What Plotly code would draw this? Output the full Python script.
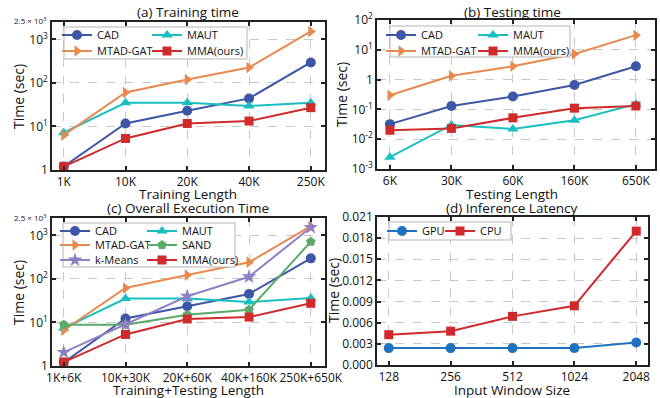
import plotly.graph_objects as go
import math

# ---------------- data ----------------
train_len = ["1K", "10K", "20K", "40K", "250K"]
train_cad = [1.2, 11.7, 23, 44, 295]
train_mtad = [6.3, 60, 120, 225, 1520]
train_maut = [7.2, 35, 35, 29.5, 35]
train_mma = [1.2, 5.3, 11.7, 13.3, 27]

test_len = ["6K", "30K", "60K", "160K", "650K"]
test_cad = [0.032, 0.13, 0.27, 0.66, 2.8]
test_mtad = [0.30, 1.35, 2.8, 7.2, 31]
test_maut = [0.0025, 0.030, 0.022, 0.043, 0.15]
test_mma = [0.020, 0.023, 0.052, 0.11, 0.13]

all_len = ["1K+6K", "10K+30K", "20K+60K", "40K+160K", "250K+650K"]
all_cad = [1.2, 12.3, 23.5, 45, 296]
all_mtad = [6.6, 62, 123, 240, 1620]
all_maut = [7.4, 35.5, 35.5, 29.3, 36.5]
all_sand = [8.9, 8.9, 15, 19.5, 715]
all_kmeans = [2.06, 8.9, 40, 112, 1520]
all_mma = [1.23, 5.3, 12, 13.3, 27.5]

win_size = ["128", "256", "512", "1024", "2048"]
gpu_lat = [0.0024, 0.0024, 0.0024, 0.0024, 0.0032]
cpu_lat = [0.0043, 0.0048, 0.0069, 0.0084, 0.0190]

# ---------------- styles ----------------
C_CAD = "#3d56a6"
C_MTAD = "#e8894f"
C_MAUT = "#19bfc0"
C_MMA = "#d02a2a"
C_SAND = "#5aaa6a"
C_KM = "#8f80c4"
C_GPU = "#1f72c0"
C_CPU = "#d0282c"
FONT = "Open Sans"

W, H = 660, 398

def px_x(x):
    return x / W

def px_y(y):
    return 1 - y / H

fig = go.Figure()
legends = {}
leg_count = [0]

def add(xv, yv, name, color, symbol, xa, ya, lx, ly, size=10):
    leg_count[0] += 1
    key = "legend" if leg_count[0] == 1 else "legend%d" % leg_count[0]
    legends[key] = dict(
        x=px_x(lx - 10), y=px_y(ly), xanchor="left", yanchor="middle",
        orientation="h", bgcolor="rgba(0,0,0,0)", borderwidth=0,
        font=dict(family=FONT, size=11, color="#111"),
        itemclick=False, itemdoubleclick=False,
    )
    fig.add_trace(go.Scatter(
        x=xv, y=yv, name=name, mode="lines+markers",
        line=dict(color=color, width=2),
        marker=dict(symbol=symbol, size=size, color=color),
        xaxis=xa, yaxis=ya, legend=key, showlegend=True,
    ))

# panel a
add(train_len, train_cad, "CAD", C_CAD, "circle", "x", "y", 67, 35)
add(train_len, train_maut, "MAUT", C_MAUT, "triangle-up", "x", "y", 157, 35)
add(train_len, train_mtad, "MTAD-GAT", C_MTAD, "triangle-right", "x", "y", 67, 51)
add(train_len, train_mma, "MMA(ours)", C_MMA, "square", "x", "y", 157, 51, 9)
# panel b
add(test_len, test_cad, "CAD", C_CAD, "circle", "x2", "y2", 391, 35)
add(test_len, test_maut, "MAUT", C_MAUT, "triangle-up", "x2", "y2", 483, 35)
add(test_len, test_mtad, "MTAD-GAT", C_MTAD, "triangle-right", "x2", "y2", 391, 51)
add(test_len, test_mma, "MMA(ours)", C_MMA, "square", "x2", "y2", 483, 51, 9)
# panel c
add(all_len, all_cad, "CAD", C_CAD, "circle", "x3", "y3", 65, 231)
add(all_len, all_maut, "MAUT", C_MAUT, "triangle-up", "x3", "y3", 152, 231)
add(all_len, all_mtad, "MTAD-GAT", C_MTAD, "triangle-right", "x3", "y3", 65, 245)
add(all_len, all_sand, "SAND", C_SAND, "pentagon", "x3", "y3", 152, 245)
add(all_len, all_kmeans, "k-Means", C_KM, "star", "x3", "y3", 65, 260, 11)
add(all_len, all_mma, "MMA(ours)", C_MMA, "square", "x3", "y3", 152, 260, 9)
# panel d
add(win_size, gpu_lat, "GPU", C_GPU, "circle", "x4", "y4", 392, 231)
add(win_size, cpu_lat, "CPU", C_CPU, "square", "x4", "y4", 450, 231, 9)

# ---------------- axes ----------------
axis_common = dict(
    showline=True, linecolor="#222", linewidth=1.5, mirror="ticks",
    ticks="inside", ticklen=4, tickwidth=1.5, tickcolor="#222",
    showgrid=True, gridcolor="#c8c8c8", griddash="dash", gridwidth=1,
    zeroline=False, tickangle=0, automargin=False,
    tickfont=dict(family=FONT, size=12, color="#111"),
)

panels = {
    "a": dict(x=(52, 325), y=(22, 170)),
    "b": dict(x=(377, 655), y=(20, 169)),
    "c": dict(x=(52, 325), y=(218, 366)),
    "d": dict(x=(377, 648), y=(217, 365)),
}

def dom(p):
    x0, x1 = panels[p]["x"]
    y0, y1 = panels[p]["y"]
    return [px_x(x0), px_x(x1)], [px_y(y1), px_y(y0)]

da = dom("a"); db = dom("b"); dc = dom("c"); dd = dom("d")

log_vals_a = [0, 1, 2, 3]
log_text_a = ["1", "10<sup>1</sup>", "10<sup>2</sup>", "10<sup>3</sup>"]
log_vals_b = [-3, -2, -1, 0, 1, 2]
log_text_b = ["10<sup>-3</sup>", "10<sup>-2</sup>", "10<sup>-1</sup>", "1", "10<sup>1</sup>", "10<sup>2</sup>"]

fig.update_layout(
    xaxis=dict(axis_common, domain=da[0], anchor="y", type="category", range=[-0.19, 4.23]),
    yaxis=dict(axis_common, domain=da[1], anchor="x", type="log", range=[0, math.log10(2500)],
               tickvals=[10 ** v for v in log_vals_a], ticktext=log_text_a),
    xaxis2=dict(axis_common, domain=db[0], anchor="y2", type="category", range=[-0.21, 4.31]),
    yaxis2=dict(axis_common, domain=db[1], anchor="x2", type="log", range=[-3, 2],
                tickvals=[10 ** v for v in log_vals_b], ticktext=log_text_b),
    xaxis3=dict(axis_common, domain=dc[0], anchor="y3", type="category", range=[-0.19, 4.23]),
    yaxis3=dict(axis_common, domain=dc[1], anchor="x3", type="log", range=[0, math.log10(2500)],
                tickvals=[10 ** v for v in log_vals_a], ticktext=log_text_a),
    xaxis4=dict(axis_common, domain=dd[0], anchor="y4", type="category", range=[-0.19, 4.19]),
    yaxis4=dict(axis_common, domain=dd[1], anchor="x4", range=[0, 0.021],
                tickvals=[0, 0.003, 0.006, 0.009, 0.012, 0.015, 0.018, 0.021],
                ticktext=["0.000", "0.003", "0.006", "0.009", "0.012", "0.015", "0.018", "0.021"]),
)
fig.update_layout(**legends)

box_style = dict(type="rect", xref="paper", yref="paper", layer="above",
                 line=dict(color="#b5b5b5", width=1), fillcolor="white")
shapes = [
    dict(box_style, x0=px_x(64), x1=px_x(247), y0=px_y(59), y1=px_y(27)),
    dict(box_style, x0=px_x(390), x1=px_x(570), y0=px_y(57), y1=px_y(26)),
    dict(box_style, x0=px_x(63), x1=px_x(235), y0=px_y(267), y1=px_y(223)),
    dict(box_style, x0=px_x(389), x1=px_x(511), y0=px_y(240), y1=px_y(222)),
]

def ann(text, x, y, size=14, angle=0):
    return dict(text=text, x=px_x(x), y=px_y(y), xref="paper", yref="paper",
                showarrow=False, xanchor="center", yanchor="middle", textangle=angle,
                font=dict(family=FONT, size=size, color="#111"))

annotations = [
    ann("(a) Training time", 188, 12, 13.5),
    ann("(b) Testing time", 512, 12, 13.5),
    ann("(c) Overall Execution Time", 188, 208, 13.5),
    ann("(d) Inference Latency", 512, 208, 13.5),
    ann("Training Length", 188, 194, 13.5),
    ann("Testing Length", 512, 194, 13.5),
    ann("Training+Testing Length", 188, 390, 13.5),
    ann("Input Window Size", 512, 390, 13.5),
    ann("Time (sec)", 18, 97, angle=-90),
    ann("Time (sec)", 342, 95, angle=-90),
    ann("Time (sec)", 18, 293, angle=-90),
    ann("Time (sec)", 333, 291, angle=-90),
    dict(text="2.5 × 10<sup>3</sup>", x=px_x(48), y=px_y(21), xref="paper", yref="paper",
         showarrow=False, xanchor="right", yanchor="middle",
         font=dict(family=FONT, size=8, color="#111")),
    dict(text="2.5 × 10<sup>3</sup>", x=px_x(48), y=px_y(217), xref="paper", yref="paper",
         showarrow=False, xanchor="right", yanchor="middle",
         font=dict(family=FONT, size=8, color="#111")),
]

fig.update_layout(
    width=W, height=H, margin=dict(l=0, r=0, t=0, b=0, autoexpand=False),
    paper_bgcolor="white", plot_bgcolor="white",
    font=dict(family=FONT, color="#111"),
    shapes=shapes, annotations=annotations,
)

fig.write_html(
    "out.html",
    config={"displayModeBar": False},
    post_script="document.body.style.margin='0';document.body.style.overflow='hidden';",
)
